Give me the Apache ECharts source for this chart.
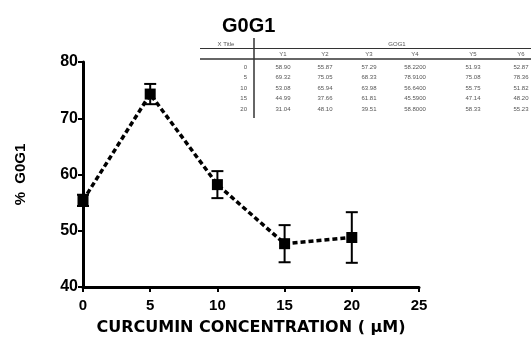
<!DOCTYPE html>
<html>
<head>
<meta charset="utf-8">
<script src="https://cdn.jsdelivr.net/npm/echarts@6/dist/echarts.min.js"></script>
<style>
  html, body { margin: 0; padding: 0; background: #fff; }
  #chart { width: 531px; height: 341px; }
</style>
</head>
<body>
<div id="chart"></div>
<script>
// concentrations (uM) and mean % G0G1 with error
const concentrations = [0, 5, 10, 15, 20];
const meanValues = [55.4, 74.3, 58.2, 47.7, 48.8];
const errValues = [1.0, 1.8, 2.4, 3.3, 4.5];

// inset data table
const tableHeaders = ["Y1", "Y2", "Y3", "Y4", "Y5", "Y6"];
const rowLabels = ["0", "5", "10", "15", "20"];
const colY1 = ["58.90", "69.32", "53.08", "44.99", "31.04"];
const colY2 = ["55.87", "75.05", "65.94", "37.66", "48.10"];
const colY3 = ["57.29", "68.33", "63.98", "61.81", "39.51"];
const colY4 = ["58.2200", "78.9100", "56.6400", "45.5900", "58.8000"];
const colY5 = ["51.93", "75.08", "55.75", "47.14", "58.33"];
const colY6 = ["52.87", "78.36", "51.82", "48.20", "55.23"];

const FONT = "Arial, 'Liberation Sans', sans-serif";
const myChart = echarts.init(document.getElementById("chart"));

// table graphic
const cols = [colY1, colY2, colY3, colY4, colY5, colY6];
const colX = [283, 325, 369, 415, 473, 521];
const rowY = [67, 77, 88, 98, 109];
const tableEls = [];
const small = { fontFamily: FONT, fontSize: 6, fill: "#555" };
tableEls.push({ type: "text", left: 222, top: 16, style: { text: "G0G1", fontFamily: FONT, fontSize: 20, fontWeight: "bold", fill: "#000" } });
tableEls.push({ type: "text", x: 226, y: 44, style: Object.assign({ text: "X Title", align: "center", verticalAlign: "middle" }, small) });
tableEls.push({ type: "text", x: 397, y: 44, style: Object.assign({ text: "GOG1", align: "center", verticalAlign: "middle" }, small) });
tableEls.push({ type: "line", shape: { x1: 200, y1: 48.5, x2: 531, y2: 48.5 }, style: { stroke: "#333", lineWidth: 1 } });
tableEls.push({ type: "line", shape: { x1: 200, y1: 59, x2: 531, y2: 59 }, style: { stroke: "#333", lineWidth: 1.5 } });
tableEls.push({ type: "line", shape: { x1: 254, y1: 38, x2: 254, y2: 118 }, style: { stroke: "#333", lineWidth: 1.5 } });
tableHeaders.forEach((h, i) => {
  tableEls.push({ type: "text", x: colX[i], y: 54, style: Object.assign({ text: h, align: "center", verticalAlign: "middle" }, small) });
});
rowLabels.forEach((r, j) => {
  tableEls.push({ type: "text", x: 247, y: rowY[j], style: Object.assign({ text: r, align: "right", verticalAlign: "middle" }, small) });
  cols.forEach((c, i) => {
    tableEls.push({ type: "text", x: colX[i], y: rowY[j], style: Object.assign({ text: c[j], align: "center", verticalAlign: "middle" }, small) });
  });
});

const lineData = concentrations.map((x, i) => [x, meanValues[i]]);
const errData = concentrations.map((x, i) => [x, meanValues[i] - errValues[i], meanValues[i] + errValues[i]]);

const option = {
  animation: false,
  backgroundColor: "#fff",
  grid: { left: 83, right: 112, top: 62, bottom: 52 },
  xAxis: {
    type: "value",
    min: 0,
    max: 25,
    interval: 5,
    name: "CURCUMIN CONCENTRATION ( \u03bcM)",
    nameLocation: "middle",
    nameGap: 33,
    nameTextStyle: { fontFamily: "'DejaVu Sans', Arial, sans-serif", fontSize: 16, fontWeight: "bold", color: "#000" },
    axisLine: { onZero: false, lineStyle: { color: "#000", width: 3 } },
    axisTick: { length: 5, lineStyle: { color: "#000", width: 2 } },
    axisLabel: { fontFamily: FONT, fontSize: 15, fontWeight: "bold", color: "#000", margin: 11 },
    splitLine: { show: false }
  },
  yAxis: {
    type: "value",
    min: 40,
    max: 80,
    interval: 10,
    name: "%  G0G1",
    nameLocation: "middle",
    nameRotate: 90,
    nameGap: 55,
    nameTextStyle: { fontFamily: FONT, fontSize: 15, fontWeight: "bold", color: "#000" },
    axisLine: { show: true, lineStyle: { color: "#000", width: 3 } },
    axisTick: { show: true, length: 5, lineStyle: { color: "#000", width: 2 } },
    axisLabel: { fontFamily: FONT, fontSize: 16, fontWeight: "bold", color: "#000", margin: 5 },
    splitLine: { show: false }
  },
  graphic: tableEls,
  series: [
    {
      type: "line",
      data: lineData,
      symbol: "rect",
      symbolSize: 11,
      itemStyle: { color: "#000" },
      lineStyle: { color: "#000", width: 3.5, type: [5, 3] },
      z: 3
    },
    {
      type: "custom",
      data: errData,
      z: 2,
      renderItem: function (params, api) {
        const x = api.value(0);
        const lo = api.coord([x, api.value(1)]);
        const hi = api.coord([x, api.value(2)]);
        const w = 6;
        const st = { stroke: "#000", lineWidth: 2 };
        return {
          type: "group",
          children: [
            { type: "line", shape: { x1: lo[0], y1: lo[1], x2: hi[0], y2: hi[1] }, style: st },
            { type: "line", shape: { x1: lo[0] - w, y1: lo[1], x2: lo[0] + w, y2: lo[1] }, style: st },
            { type: "line", shape: { x1: hi[0] - w, y1: hi[1], x2: hi[0] + w, y2: hi[1] }, style: st }
          ]
        };
      }
    }
  ]
};
myChart.setOption(option);
</script>
</body>
</html>
